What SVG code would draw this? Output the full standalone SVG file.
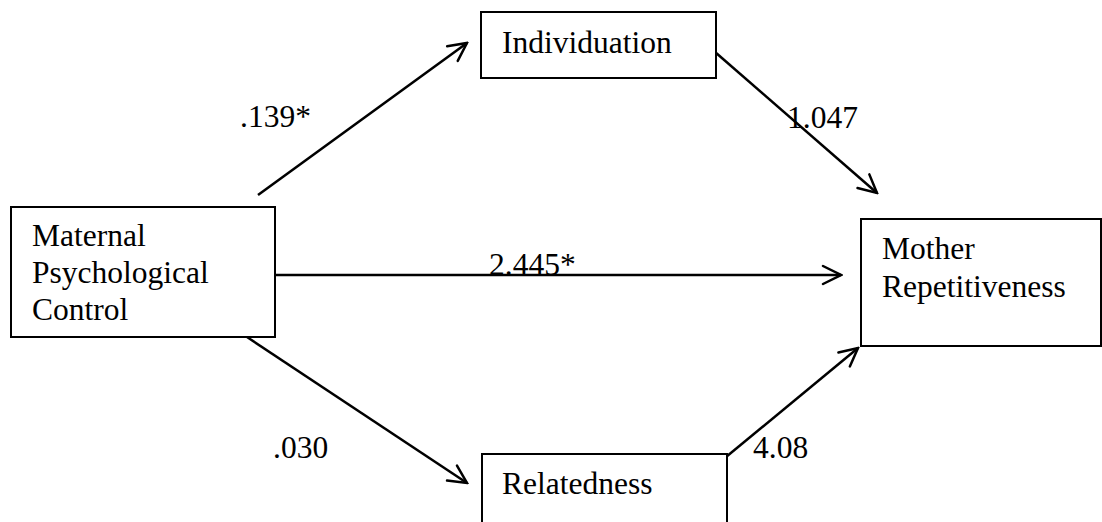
<svg xmlns="http://www.w3.org/2000/svg" width="1102" height="522" viewBox="0 0 1102 522">
<style>
.box{fill:#fff;stroke:#000;stroke-width:2}
.lbl{font-family:'Liberation Serif','Tinos','Times New Roman','DejaVu Serif','Noto Serif',serif;font-size:31.5px;fill:#000}
.edge{stroke:#000;stroke-width:2.5;fill:none;marker-end:url(#arr)}
</style>
<defs>
<marker id="arr" markerUnits="userSpaceOnUse" viewBox="-22 -12 24 24" refX="0" refY="0" markerWidth="24" markerHeight="24" orient="auto">
<path d="M-18,-9 L0,0 L-18,9" fill="none" stroke="#000" stroke-width="2.5" stroke-linecap="round" stroke-linejoin="miter"/>
</marker>
</defs>
<rect width="1102" height="522" fill="#fff"/>
<g id="connectors">
<line class="edge" x1="258" y1="195" x2="467" y2="43"/>
<line class="edge" x1="247" y1="337" x2="467" y2="483"/>
<line class="edge" x1="275" y1="275" x2="841" y2="275"/>
<line class="edge" x1="715" y1="52" x2="877" y2="193"/>
<line class="edge" x1="726" y1="457" x2="858" y2="348"/>
</g>
<g id="node-maternal">
<rect class="box" x="11" y="207" width="264" height="130"/>
<text class="lbl" x="32" y="246">Maternal</text>
<text class="lbl" x="32" y="283">Psychological</text>
<text class="lbl" x="32" y="320">Control</text>
</g>
<g id="node-individuation">
<rect class="box" x="481" y="12" width="235" height="66"/>
<text class="lbl" x="502" y="53">Individuation</text>
</g>
<g id="node-relatedness">
<rect class="box" x="482" y="454" width="245" height="100"/>
<text class="lbl" x="502" y="494">Relatedness</text>
</g>
<g id="node-mother">
<rect class="box" x="861" y="219" width="240" height="127"/>
<text class="lbl" x="882" y="259">Mother</text>
<text class="lbl" x="882" y="297">Repetitiveness</text>
</g>
<g id="edge-labels">
<text class="lbl" x="240" y="127">.139*</text>
<text class="lbl" x="787" y="128">1.047</text>
<text class="lbl" x="489" y="275">2.445*</text>
<text class="lbl" x="273" y="458">.030</text>
<text class="lbl" x="753" y="458">4.08</text>
</g>
</svg>
